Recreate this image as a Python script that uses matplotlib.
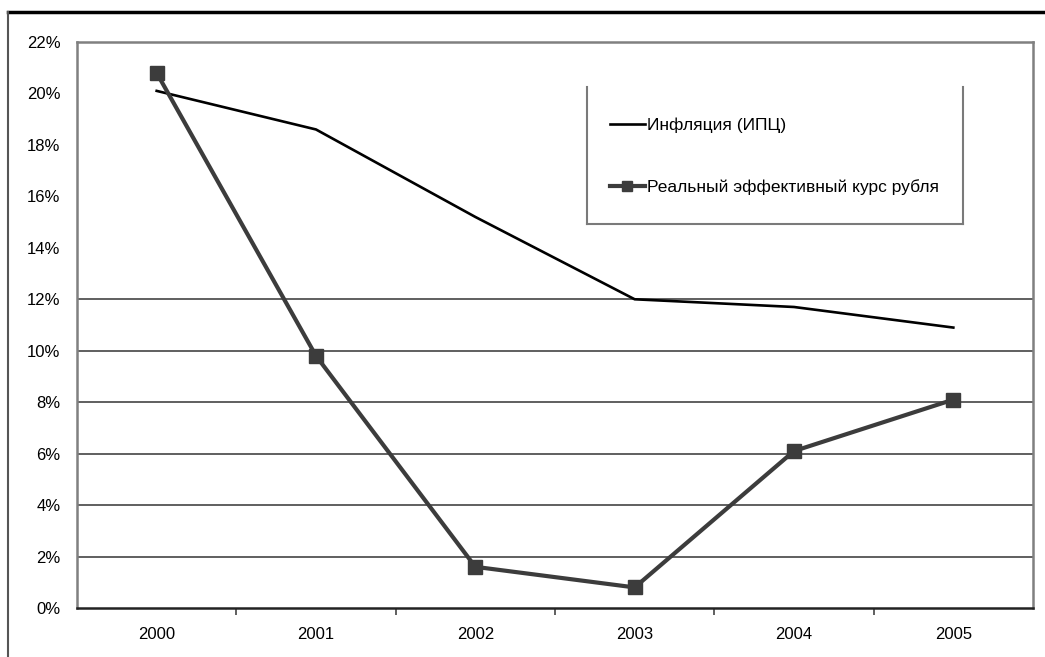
import matplotlib
matplotlib.use("Agg")
import matplotlib.pyplot as plt
from matplotlib.lines import Line2D
from matplotlib.ticker import FuncFormatter, FixedLocator

plt.rcParams['font.family'] = ['Liberation Sans', 'DejaVu Sans']

years = ['2000', '2001', '2002', '2003', '2004', '2005']
inflation = [20.1, 18.6, 15.2, 12.0, 11.7, 10.9]
reer = [20.8, 9.8, 1.6, 0.8, 6.1, 8.1]
label_infl = 'Инфляция (ИПЦ)'
label_reer = 'Реальный эффективный курс рубля'
y_ticks = [0, 2, 4, 6, 8, 10, 12, 14, 16, 18, 20, 22]
grid_levels = [2, 4, 6, 8, 10, 12]          # gridlines visible in the reference
tick_marks = [0, 2, 4, 6, 8, 10, 12, 22]    # tick marks visible in the reference

W, H = 1045, 657
fig = plt.figure(figsize=(W / 100, H / 100), dpi=100)
ax = fig.add_axes([77 / W, 1 - 608 / H, (1033 - 77) / W, (608 - 42) / H])

x = list(range(len(years)))
ax.plot(x, inflation, color='black', lw=1.9, solid_joinstyle='round', zorder=3)
ax.plot(x, reer, color='#3c3c3c', lw=3.0, marker='s', markersize=9.5,
        markerfacecolor='#3c3c3c', markeredgecolor='#3c3c3c', zorder=4)

ax.set_xlim(-0.5, len(years) - 0.5)
ax.set_ylim(0, 22)
ax.set_yticks(y_ticks)
ax.yaxis.set_major_formatter(FuncFormatter(lambda v, p: f'{int(v)}%'))
ax.yaxis.set_minor_locator(FixedLocator(tick_marks))
ax.set_xticks(x)
ax.set_xticklabels(years)
ax.xaxis.set_minor_locator(FixedLocator([i + 0.5 for i in range(len(years) - 1)]))
ax.tick_params(axis='x', which='major', length=0, pad=14, labelsize=12)
ax.tick_params(axis='x', which='minor', length=5, width=1.2, color='#444444', direction='out')
ax.tick_params(axis='y', which='major', length=0, pad=12, labelsize=12)
ax.tick_params(axis='y', which='minor', length=6, width=1.2, color='#666666', direction='out')

for v in grid_levels:
    ax.axhline(v, color='#444444', lw=1.2, zorder=1)

for s in ['top', 'left', 'right']:
    ax.spines[s].set_color('#808080')
    ax.spines[s].set_linewidth(1.8)
ax.spines['bottom'].set_color('#222222')
ax.spines['bottom'].set_linewidth(1.8)

# legend
handles = [Line2D([], [], color='black', lw=1.9),
           Line2D([], [], color='#3c3c3c', lw=3.0, marker='s', markersize=7)]
leg = fig.legend(handles, [label_infl, label_reer], loc='upper left',
                 bbox_to_anchor=(603 / W, 1 - 111 / H), frameon=False,
                 fontsize=12.5, handlelength=2.0, handletextpad=0.15,
                 labelspacing=2.65, borderaxespad=0)
# legend box (left, right, bottom)
bx0, bx1, by0, by1 = 587 / W, 963 / W, 1 - 224 / H, 1 - 87 / H
for xs, ys in [([bx0, bx0], [by0, by1]), ([bx1, bx1], [by0, by1]), ([bx0, bx1], [by0, by0])]:
    fig.add_artist(Line2D(xs, ys, transform=fig.transFigure, color='#7a7a7a', lw=1.5))

# outer frame
fig.add_artist(Line2D([8 / W, 1.0], [1 - 12 / H, 1 - 12 / H], transform=fig.transFigure,
                      color='black', lw=2.5))
fig.add_artist(Line2D([8 / W, 8 / W], [0, 1 - 12 / H], transform=fig.transFigure,
                      color='#555555', lw=1.5))

fig.savefig('out.png', dpi=100)
